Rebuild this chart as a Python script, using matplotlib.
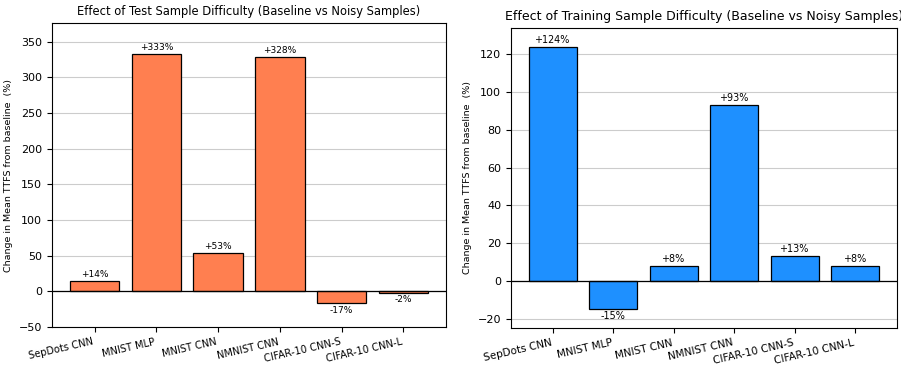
import numpy as np
import matplotlib
matplotlib.use("Agg")
import matplotlib.pyplot as plt

models = ["SepDots CNN", "MNIST MLP", "MNIST CNN", "NMNIST CNN", "CIFAR-10 CNN-S", "CIFAR-10 CNN-L"]
test_change = [14, 333, 53, 328, -17, -2]
train_change = [124, -15, 8, 93, 13, 8]

fig = plt.figure(figsize=(9.01, 3.65), dpi=100)
ax1 = fig.add_axes([52 / 901, 38 / 365, 394 / 901, 304 / 365])
ax2 = fig.add_axes([511 / 901, 37 / 365, 386 / 901, 300 / 365])


def draw(ax, vals, color, title, ylim, yticks, fs):
    # fs: (title, ticks, xticks, values, ylabel)
    x = np.arange(len(models))
    ax.set_axisbelow(True)
    ax.yaxis.grid(True, color="#cccccc", lw=0.8)
    bars = ax.bar(x, vals, width=0.8, color=color, edgecolor="black", lw=0.9)
    ax.axhline(0, color="black", lw=0.9)
    for b, v in zip(bars, vals):
        label = f"+{v}%" if v > 0 else f"{v}%"
        cx = b.get_x() + b.get_width() / 2
        if v >= 0:
            ax.annotate(label, (cx, v), xytext=(0, 1.5), textcoords="offset points",
                        ha="center", va="bottom", fontsize=fs[3])
        else:
            ax.annotate(label, (cx, v), xytext=(0, -1.5), textcoords="offset points",
                        ha="center", va="top", fontsize=fs[3])
    ax.set_xticks(x)
    ax.set_xticklabels(models, rotation=13, ha="right", fontsize=fs[2])
    ax.set_ylim(*ylim)
    ax.set_yticks(yticks)
    ax.tick_params(axis="y", labelsize=fs[1])
    ax.set_ylabel("Change in Mean TTFS from baseline  (%)", fontsize=fs[4])
    ax.set_title(title, fontsize=fs[0])


draw(ax1, test_change, "#FF7F50", "Effect of Test Sample Difficulty (Baseline vs Noisy Samples)",
     (-50, 376), np.arange(-50, 351, 50), (8.3, 8.0, 7.1, 6.5, 6.8))
draw(ax2, train_change, "#1E90FF", "Effect of Training Sample Difficulty (Baseline vs Noisy Samples)",
     (-25, 134), np.arange(-20, 121, 20), (9.0, 8.0, 7.5, 6.9, 6.8))

plt.savefig("out.png", dpi=100)
